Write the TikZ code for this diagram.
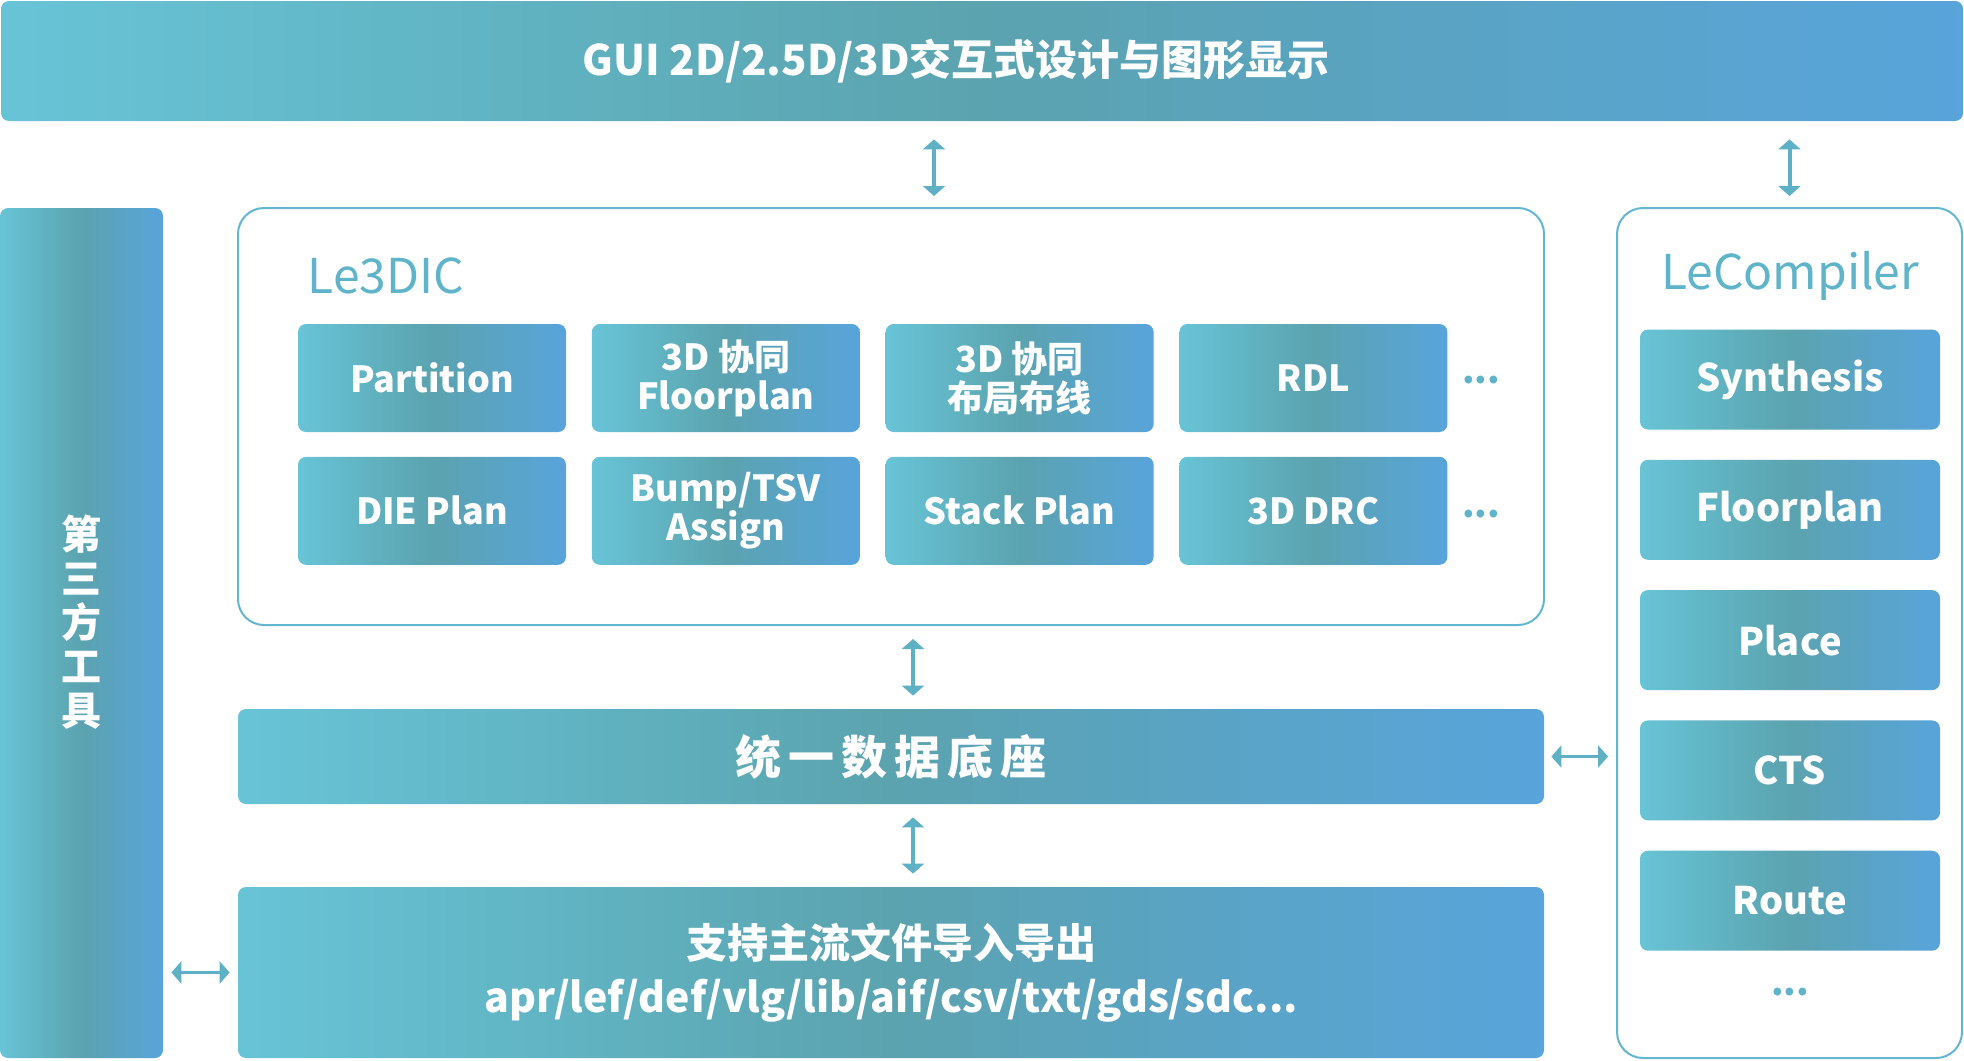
\documentclass[tikz,border=0pt]{standalone}
\usepackage{fontspec}
\setmainfont{Noto Sans CJK SC}
\usetikzlibrary{arrows.meta,positioning,calc}
\definecolor{lecyan}{HTML}{67C4D6}
\definecolor{leteal}{HTML}{5BA3AF}
\definecolor{leblue}{HTML}{58A4DB}
\definecolor{lelabel}{HTML}{5FB4C9}
\definecolor{learrow}{HTML}{5EB1C4}
\definecolor{leframe}{HTML}{62B6D0}

\begin{document}
\begin{tikzpicture}[x=0.5pt, y=-0.5pt,
  every node/.style={align=center, inner sep=0pt},
  grad/.style={left color=lecyan, right color=leblue, middle color=leteal, text=white, rounded corners=4pt},
  frame/.style={draw=leframe, line width=1pt, fill=white, rounded corners=13pt},
  tile/.style={grad, minimum width=134pt, minimum height=54pt, font=\bfseries\fontsize{18}{19.5}\selectfont},
  ctile/.style={grad, minimum width=150pt, minimum height=50pt, font=\bfseries\fontsize{19}{21}\selectfont},
  title/.style={text=lelabel, font=\fontsize{24}{26}\selectfont},
  more/.style={text=lelabel, font=\bfseries\fontsize{18}{18}\selectfont},
  biarrow/.style={{Triangle[width=11pt,length=5pt]}-{Triangle[width=11pt,length=5pt]}, line width=2pt, draw=learrow}
]
\useasboundingbox (0,0) rectangle (1964,1060);

% top bar and side bar
\node[grad, minimum width=981pt, minimum height=60pt, font=\bfseries\fontsize{21}{24}\selectfont] (gui) at (982,61)
  {GUI 2D/2.5D/3D交互式设计与图形显示\hspace{26pt}};
\node[grad, minimum width=81.5pt, minimum height=425pt, font=\bfseries\fontsize{20}{22}\selectfont] (third) at (81.5,633)
  {第\\三\\方\\工\\具\\[-9.5pt]};

% Le3DIC block
\node[frame, minimum width=653pt, minimum height=208.5pt] (le3dic) at (891,416.5) {};
\node[title] (le3diclbl) at (386,276) {Le3DIC};
\node[tile] (part) at (432,378) {Partition};
\node[tile, right=12.5pt of part] (fp3d) {3D 协同\\Floorplan};
\node[tile, right=12.5pt of fp3d] (pr3d) {3D 协同\\布局布线};
\node[tile, right=12.5pt of pr3d] (rdl) {RDL};
\node[tile, below=12pt of part] (die) {DIE Plan};
\node[tile, right=12.5pt of die] (bump) {Bump/TSV\\Assign};
\node[tile, right=12.5pt of bump] (stack) {Stack Plan};
\node[tile, right=12.5pt of stack] (drc) {3D DRC};
\node[more] (more1) at (1481,380) {...};
\node[more] (more2) at (1481,514) {...};

% LeCompiler block
\node[frame, minimum width=172.5pt, minimum height=425pt] (lecomp) at (1789.5,633) {};
\node[title] (lecomplbl) at (1790,276) {LeCompiler};
\node[ctile] (syn) at (1790,379.5) {Synthesis};
\node[ctile, below=14.75pt of syn] (cfp) {Floorplan};
\node[ctile, below=14.75pt of cfp] (place) {Place};
\node[ctile, below=14.75pt of place] (cts) {CTS};
\node[ctile, below=14.75pt of cts] (route) {Route};
\node[more] (more3) at (1790,992) {...};

% data base and file io
\node[grad, minimum width=653pt, minimum height=47.5pt, font=\bfseries\fontsize{23}{26}\selectfont\addfontfeature{LetterSpace=15}] (base) at (891,756.5)
  {统一数据底座};
\node[grad, minimum width=653pt, minimum height=85.5pt, font=\bfseries\fontsize{20.5}{27}\selectfont] (fileio) at (891,972.5)
  {支持主流文件导入导出\\apr/lef/def/vlg/lib/aif/csv/txt/gds/sdc...};

% connectors
\draw[biarrow, shorten <=5.5pt, shorten >=9pt] ([xshift=21.5pt]le3dic.north) -- ([xshift=21.5pt]le3dic.north |- gui.south);
\draw[biarrow, shorten <=5.5pt, shorten >=9pt] (lecomp.north) -- (lecomp.north |- gui.south);
\foreach \a/\b in {le3dic/base, base/fileio}
  \draw[biarrow, shorten <=6.5pt, shorten >=6.5pt] ([xshift=11pt]\a.south) -- ([xshift=11pt]\a.south |- \b.north);
\draw[biarrow, line width=1.6pt, shorten <=3.5pt, shorten >=4pt] (base.east) -- (base.east -| lecomp.west);
\draw[biarrow, line width=1.6pt, shorten <=4pt, shorten >=4pt] (third.east |- fileio.west) -- (fileio.west);
\end{tikzpicture}
\end{document}
